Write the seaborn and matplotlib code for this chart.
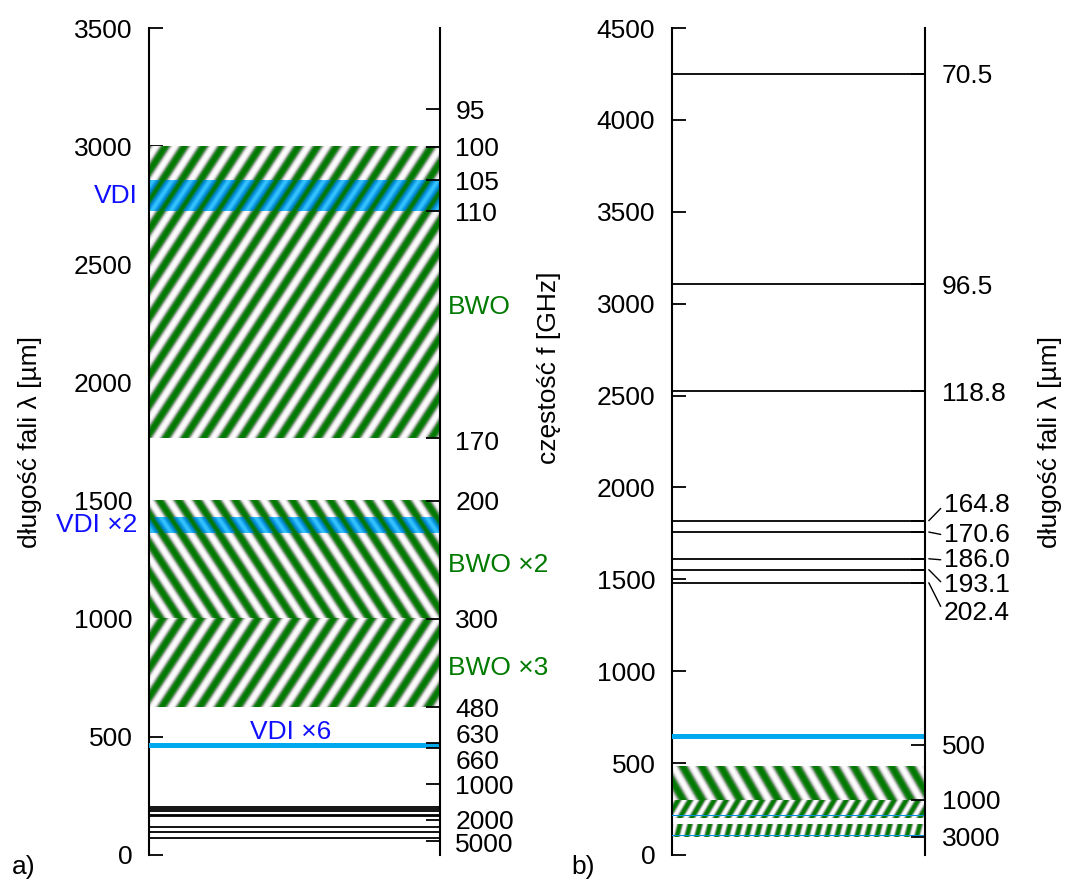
import numpy as np
import pandas as pd
import matplotlib
matplotlib.use("Agg")
import matplotlib.pyplot as plt
import seaborn as sns
from matplotlib.colors import LinearSegmentedColormap
from matplotlib.transforms import blended_transform_factory, ScaledTranslation

# ---------------- data ----------------
C_UM_GHZ = 299792.458          # lambda[um] * f[GHz]
bwo_bands = [(100, 170), (200, 300), (300, 480)]        # GHz
bwo_names = ["BWO", "BWO ×2", "BWO ×3"]
vdi_bands = [(105, 110), (210, 220), (630, 660)]        # GHz
vdi_names = ["VDI", "VDI ×2", "VDI ×6"]
laser_lines_um = [70.5, 96.5, 118.8, 164.8, 170.6, 186.0, 193.1, 202.4]
laser_labels = ["70.5", "96.5", "118.8", "164.8", "170.6", "186.0", "193.1", "202.4"]
freq_ticks_a = [95, 100, 105, 110, 170, 200, 300, 480, 630, 660, 1000, 2000, 5000]
wl_ticks_b = [500, 1000, 3000]
left_ticks_a = [0, 500, 1000, 1500, 2000, 2500, 3000, 3500]
left_ticks_b = [0, 500, 1000, 1500, 2000, 2500, 3000, 3500, 4000, 4500]

# ---------------- style ----------------
sns.set_theme(style="white")
plt.rcParams["font.family"] = ["Liberation Sans", "DejaVu Sans"]
for k in ["text.color", "axes.labelcolor", "xtick.color", "ytick.color"]:
    plt.rcParams[k] = "black"
FS = 19
GREEN = "#007a00"
BLUE_TXT = "#1010ff"
CYAN = "#00a8ee"

cm_bwo = LinearSegmentedColormap.from_list(
    "bwo", [(0, "#007800"), (0.22, "#1a821a"), (0.5, "#8c9c8c"),
            (0.75, "#dedede"), (1, "#ffffff")])
cm_vdi = LinearSegmentedColormap.from_list(
    "vdi", [(0, "#007800"), (0.4, "#0082c8"), (0.75, "#0f9ee4"), (1, "#35c2ff")])

fig = plt.figure(figsize=(10.66, 8.84), dpi=100)
axa = fig.add_axes([149 / 1066, 29 / 884, 291 / 1066, 827 / 884])
axb = fig.add_axes([672 / 1066, 29 / 884, 253 / 1066, 827 / 884])


def stripes(ax, lo, hi, cmap, period, angle, sign, z=1):
    (x0, y0) = ax.transData.transform((0, lo))
    (x1, y1) = ax.transData.transform((1, hi))
    w = max(int(round(x1 - x0)), 1)
    h = max(int(round(y1 - y0)), 1)
    xs = x0 + np.arange(w) + 0.5
    ys = y0 + np.linspace(0, y1 - y0, h)
    X, Y = np.meshgrid(xs, ys)
    ph = 2 * np.pi * (X - sign * Y / np.tan(np.radians(angle))) / period
    v = 0.5 + 0.5 * np.cos(ph)
    ax.imshow(v, extent=[0, 1, lo, hi], origin="lower", aspect="auto",
              cmap=cmap, vmin=0, vmax=1, interpolation="bilinear", zorder=z)


def frame(ax, ymax, ticks):
    ax.set_xlim(0, 1)
    ax.set_ylim(0, ymax)
    ax.set_xticks([])
    ax.set_yticks(ticks)
    ax.set_yticklabels([str(t) for t in ticks], fontsize=FS)
    ax.tick_params(axis="y", direction="in", length=10, width=1.3, pad=12,
                   left=True, right=False, colors="black")
    for s in ["top", "bottom", "right"]:
        ax.spines[s].set_visible(False)
    ax.spines["left"].set_linewidth(1.5)
    ax.spines["left"].set_color("black")
    ax.set_facecolor("none")


frame(axa, 3500, left_ticks_a)
frame(axb, 4500, left_ticks_b)

# ---------------- panel a (wavelength) ----------------
dirs_a = [1, -1, 1]
for (flo, fhi), sgn in zip(bwo_bands, dirs_a):
    stripes(axa, C_UM_GHZ / fhi, C_UM_GHZ / flo, cm_bwo, 19, 57, sgn)
for i, ((flo, fhi), sgn) in enumerate(zip(vdi_bands[:2], dirs_a[:2])):
    stripes(axa, C_UM_GHZ / fhi, C_UM_GHZ / flo, cm_vdi, 19, 57, sgn, z=2)
axa.axhspan(C_UM_GHZ / vdi_bands[2][1], C_UM_GHZ / vdi_bands[2][0],
            color=CYAN, lw=0, zorder=3)

lines_a = pd.DataFrame({
    "x": np.tile([0.0, 1.0], len(laser_lines_um)),
    "y": np.repeat(laser_lines_um, 2),
    "line": np.repeat(np.arange(len(laser_lines_um)), 2),
})
sns.lineplot(data=lines_a, x="x", y="y", units="line", estimator=None,
             color="black", lw=1.3, ax=axa, zorder=4, legend=False)
axa.set_xlim(0, 1)
axa.set_ylim(0, 3500)
axa.set_xlabel("")
axa.set_ylabel("")

ta = blended_transform_factory(axa.transAxes, axa.transData)
vdi_a_y = [np.mean([C_UM_GHZ / f for f in b]) for b in vdi_bands]
axa.text(-0.04, vdi_a_y[0], vdi_names[0], color=BLUE_TXT, fontsize=FS,
         ha="right", va="center", transform=ta)
axa.text(-0.04, vdi_a_y[1], vdi_names[1], color=BLUE_TXT, fontsize=FS,
         ha="right", va="center", transform=ta, zorder=5, clip_on=False)
axa.text(0.485, 522, vdi_names[2], color=BLUE_TXT, fontsize=FS,
         ha="center", va="center", transform=ta)
bwo_label_y = [2319, 1227, 791]
for name, yy in zip(bwo_names, bwo_label_y):
    axa.text(1.027, yy, name, color=GREEN, fontsize=FS, ha="left", va="center",
             transform=ta)

axa2 = axa.twinx()
axa2.set_ylim(0, 3500)
axa2.set_yticks([C_UM_GHZ / f for f in freq_ticks_a])
axa2.set_yticklabels([str(f) for f in freq_ticks_a], fontsize=FS)
axa2.tick_params(axis="y", direction="in", length=10, width=1.3, pad=11,
                 right=True, left=False, colors="black")
for s in ["top", "bottom", "left"]:
    axa2.spines[s].set_visible(False)
axa2.spines["right"].set_linewidth(1.5)
axa2.spines["right"].set_color("black")
label_shift_px = {630: 9, 660: -12, 170: -2, 5000: -2}
for f, lab in zip(freq_ticks_a, axa2.get_yticklabels()):
    dy = label_shift_px.get(f, 0)
    if dy:
        lab.set_transform(lab.get_transform() +
                          ScaledTranslation(0, dy / 100, fig.dpi_scale_trans))

axa.text(-0.41, 0.5, "długość fali λ [µm]", rotation=90, fontsize=FS,
         ha="center", va="center", transform=axa.transAxes)
axa.text(1.375, 0.589, "częstość f [GHz]", rotation=90, fontsize=FS,
         ha="center", va="center", transform=axa.transAxes)

# ---------------- panel b (frequency) ----------------
stripe_b = {0: (10, 76, 1), 1: (12, 60, 1), 2: (19, 60, -1)}
for i, (flo, fhi) in enumerate(bwo_bands):
    p, ang, sgn = stripe_b[i]
    stripes(axb, flo, fhi, cm_bwo, p, ang, sgn)
for flo, fhi in vdi_bands[:2]:
    axb.axhspan(flo, fhi, color="#0090e0", lw=0, zorder=3)
axb.axhspan(vdi_bands[2][0], vdi_bands[2][1], color=CYAN, lw=0, zorder=3)

laser_f = [C_UM_GHZ / l for l in laser_lines_um]
lines_b = pd.DataFrame({
    "x": np.tile([0.0, 1.0], len(laser_f)),
    "y": np.repeat(laser_f, 2),
    "line": np.repeat(np.arange(len(laser_f)), 2),
})
sns.lineplot(data=lines_b, x="x", y="y", units="line", estimator=None,
             color="black", lw=1.3, ax=axb, zorder=4, legend=False)
axb.set_xlim(0, 1)
axb.set_ylim(0, 4500)
axb.set_xlabel("")
axb.set_ylabel("")

axb2 = axb.twinx()
axb2.set_ylim(0, 4500)
rt_pos = laser_f + [C_UM_GHZ / w for w in wl_ticks_b]
rt_lab = laser_labels[:3] + [""] * 5 + [str(w) for w in wl_ticks_b]
axb2.set_yticks(rt_pos)
axb2.set_yticklabels(rt_lab, fontsize=FS)
axb2.tick_params(axis="y", direction="in", length=10, width=1.3, pad=12,
                 right=True, left=False, colors="black")
for s in ["top", "bottom", "left"]:
    axb2.spines[s].set_visible(False)
axb2.spines["right"].set_linewidth(1.5)
axb2.spines["right"].set_color("black")

tb = blended_transform_factory(axb.transAxes, axb.transData)
offset_label_f = [1904, 1741, 1605, 1469, 1317]
for lab, fl, fy in zip(laser_labels[3:], laser_f[3:], offset_label_f):
    axb.annotate(lab, xy=(1.015, fl), xycoords=tb, xytext=(1.075, fy),
                 textcoords=tb, fontsize=FS, ha="left", va="center",
                 annotation_clip=False,
                 arrowprops=dict(arrowstyle="-", lw=1.0, color="black",
                                 shrinkA=0, shrinkB=0, relpos=(0, 0.5)))

axb.text(1.494, 0.5, "długość fali λ [µm]", rotation=90, fontsize=FS,
         ha="center", va="center", transform=axb.transAxes)

fig.text(12 / 1066, 1 - 867 / 884, "a)", fontsize=FS, ha="left", va="center")
fig.text(571 / 1066, 1 - 867 / 884, "b)", fontsize=FS, ha="left", va="center")

fig.savefig("out.png", dpi=100, facecolor="white")
